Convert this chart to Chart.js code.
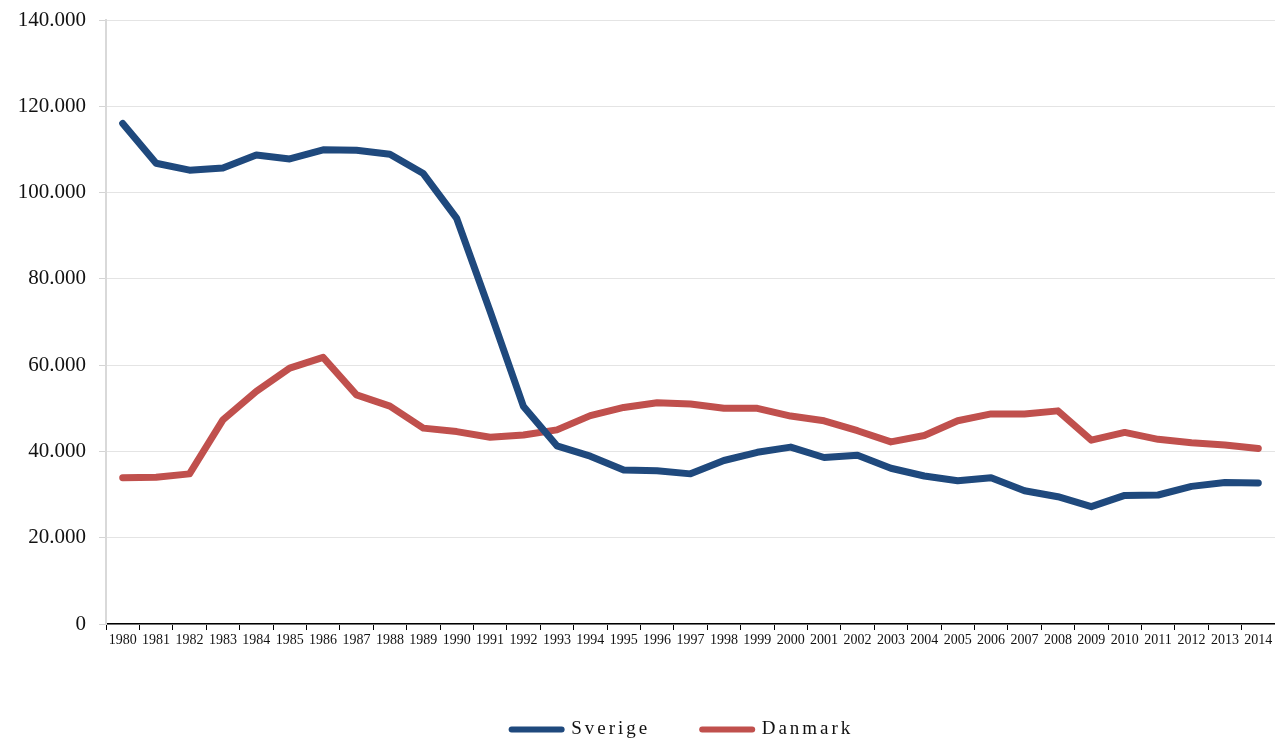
<!DOCTYPE html>
<html>
<head>
<meta charset="utf-8">
<script src="https://cdn.jsdelivr.net/npm/chart.js@4/dist/chart.umd.min.js"></script>
<style>
  html, body { margin: 0; padding: 0; background: #fff; }
  #wrap { width: 1275px; height: 740px; }
</style>
</head>
<body>
<div id="wrap"><canvas id="c" width="1275" height="740"></canvas></div>
<script>
const years = ['1980','1981','1982','1983','1984','1985','1986','1987','1988','1989',
  '1990','1991','1992','1993','1994','1995','1996','1997','1998','1999',
  '2000','2001','2002','2003','2004','2005','2006','2007','2008','2009',
  '2010','2011','2012','2013','2014'];

const sverige = [116000, 106800, 105200, 105700, 108700, 107800, 109900, 109800, 108900, 104400,
  94000, 72500, 50400, 41300, 38900, 35700, 35500, 34800, 37900, 39800,
  41000, 38600, 39100, 36100, 34300, 33200, 33900, 30900, 29500, 27200,
  29800, 29900, 31900, 32800, 32700];

const danmark = [33900, 34000, 34800, 47300, 53900, 59300, 61800, 53100, 50500, 45400,
  44600, 43300, 43800, 45000, 48300, 50200, 51300, 51000, 50000, 50000,
  48200, 47100, 44800, 42200, 43700, 47100, 48700, 48700, 49400, 42600,
  44400, 42800, 42000, 41500, 40700];

const seriesNames = ['Sverige', 'Danmark'];
const yTicks = [0, 20000, 40000, 60000, 80000, 100000, 120000, 140000];

const BLUE = '#1f497d';
const RED = '#c0504d';
const SERIF = '"Liberation Serif", "Times New Roman", serif';

function fmt(v) {
  return String(v).replace(/\B(?=(\d{3})+(?!\d))/g, '.');
}

// Widens the legend lettering and fixes the legend band height.
const legendSpacing = {
  id: 'legendSpacing',
  beforeLayout(chart) {
    const lg = chart.legend;
    if (!lg || lg._spaced) return;
    lg._spaced = true;
    const fit = lg.fit.bind(lg);
    const draw = lg.draw.bind(lg);
    lg.fit = function () {
      const ctx = this.ctx;
      ctx.save();
      ctx.letterSpacing = '3px';
      fit();
      ctx.restore();
      this.height = 72;
    };
    lg.draw = function () {
      const ctx = this.ctx;
      ctx.save();
      ctx.letterSpacing = '3px';
      ctx.translate(-8, 0);
      draw();
      ctx.restore();
    };
  }
};

new Chart(document.getElementById('c'), {
  type: 'line',
  data: {
    labels: years,
    datasets: [
      {
        label: seriesNames[0],
        data: sverige,
        borderColor: BLUE,
        backgroundColor: BLUE,
        borderWidth: 7,
        borderCapStyle: 'round',
        borderJoinStyle: 'round',
        pointRadius: 0,
        tension: 0
      },
      {
        label: seriesNames[1],
        data: danmark,
        borderColor: RED,
        backgroundColor: RED,
        borderWidth: 7,
        borderCapStyle: 'round',
        borderJoinStyle: 'round',
        pointRadius: 0,
        tension: 0
      }
    ]
  },
  options: {
    responsive: false,
    animation: false,
    devicePixelRatio: 1,
    layout: { padding: { top: 20, left: 0, right: 0, bottom: 0 } },
    plugins: {
      tooltip: { enabled: false },
      legend: {
        position: 'bottom',
        fullSize: false,
        labels: {
          usePointStyle: true,
          pointStyle: 'line',
          pointStyleWidth: 50,
          padding: 52,
          color: '#111',
          font: { family: SERIF, size: 19 },
          generateLabels(chart) {
            const items = Chart.defaults.plugins.legend.labels.generateLabels(chart);
            items.forEach(it => { it.lineCap = 'round'; it.lineWidth = 6; });
            return items;
          }
        }
      }
    },
    scales: {
      x: {
        offset: true,
        afterFit(scale) { scale.height = 44; },
        grid: {
          offset: true,
          drawOnChartArea: false,
          drawTicks: true,
          tickLength: 6,
          color: '#000'
        },
        border: { color: '#000', width: 1.5 },
        ticks: {
          autoSkip: false,
          maxRotation: 0,
          minRotation: 0,
          padding: 2,
          color: '#111',
          font: { family: SERIF, size: 14 }
        }
      },
      y: {
        min: 0,
        max: 140000,
        afterFit(scale) {
          scale.width = 106;
          scale.paddingTop = 0;
          scale.paddingBottom = 0;
        },
        afterBuildTicks(scale) { scale.ticks = yTicks.map(v => ({ value: v })); },
        grid: {
          color: '#e4e4e4',
          lineWidth: 1,
          tickLength: 7,
          tickColor: '#d4d4d4'
        },
        border: { color: '#d9d9d9', width: 2 },
        ticks: {
          padding: 13,
          color: '#111',
          font: { family: SERIF, size: 21 },
          callback: (v) => fmt(v)
        }
      }
    }
  },
  plugins: [legendSpacing]
});
</script>
</body>
</html>
